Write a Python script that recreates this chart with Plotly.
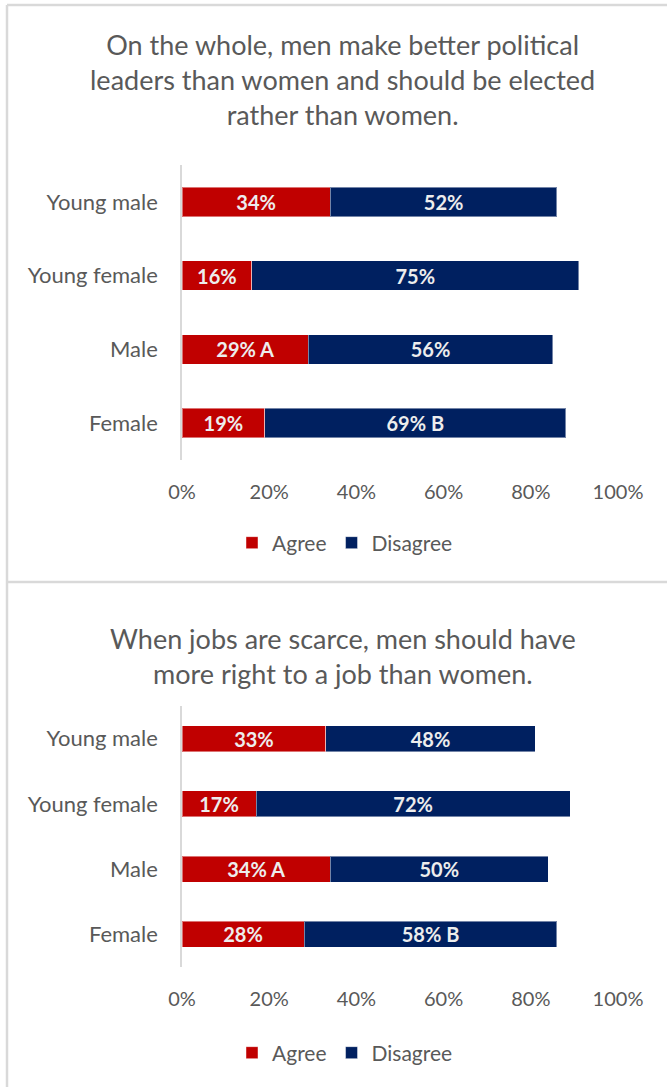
import plotly.graph_objects as go

# Survey groups, listed top to bottom
categories = ["Young male", "Young female", "Male", "Female"]

# Statement 1: men make better political leaders
leaders_agree = [34, 16, 29, 19]
leaders_disagree = [52, 75, 56, 69]
leaders_agree_flag = ["", "", "A", ""]
leaders_disagree_flag = ["", "", "", "B"]

# Statement 2: men should have more right to a job
jobs_agree = [33, 17, 34, 28]
jobs_disagree = [48, 72, 50, 58]
jobs_agree_flag = ["", "", "A", ""]
jobs_disagree_flag = ["", "", "", "B"]

tick_values = [0, 20, 40, 60, 80, 100]
tick_labels = ["0%", "20%", "40%", "60%", "80%", "100%"]

titles = [
    "On the whole, men make better political<br>leaders than women and should be elected<br>rather than women.",
    "When jobs are scarce, men should have<br>more right to a job than women.",
]

RED = "#C00000"
NAVY = "#002060"
GREY_TEXT = "#595959"
FRAME = "#D9D9D9"
FONT = "Lato, 'Open Sans', sans-serif"

W, H = 667, 1087


def px_x(p):
    return p / W


def px_y(p):
    return 1 - p / H


def labels(values, flags):
    return [f"{v}% {f}".strip() for v, f in zip(values, flags)]


fig = go.Figure()

panels = [
    ("x", "y", "legend", leaders_agree, leaders_disagree,
     leaders_agree_flag, leaders_disagree_flag),
    ("x2", "y2", "legend2", jobs_agree, jobs_disagree,
     jobs_agree_flag, jobs_disagree_flag),
]

for xa, ya, lg, agree, disagree, aflag, dflag in panels:
    for name, vals, flags, color in [
        ("Agree", agree, aflag, RED),
        ("Disagree", disagree, dflag, NAVY),
    ]:
        fig.add_trace(go.Bar(
            y=categories, x=vals, orientation="h", name=name,
            marker=dict(color=color, line=dict(color="rgba(255,255,255,0.45)", width=1)),
            text=labels(vals, flags), textposition="inside",
            insidetextanchor="middle", textangle=0,
            textfont=dict(family=FONT, size=20, color="#EDEDED", weight="bold"),
            xaxis=xa, yaxis=ya, legend=lg, hoverinfo="skip",
        ))

axis_x = dict(range=[0, 100], tickvals=tick_values, ticktext=tick_labels,
              showgrid=False, zeroline=False, showline=False, automargin=False,
              ticks="", ticklabelstandoff=18,
              tickfont=dict(family=FONT, size=20, color=GREY_TEXT),
              fixedrange=True)
axis_y = dict(autorange="reversed", showgrid=False, zeroline=False, automargin=False,
              showline=True, linecolor=FRAME, linewidth=1.5,
              ticks="", ticklabelstandoff=18,
              tickfont=dict(family=FONT, size=22, color=GREY_TEXT),
              fixedrange=True)

legend_style = dict(orientation="h", xanchor="center", yanchor="middle",
                    x=px_x(345), font=dict(family=FONT, size=21, color=GREY_TEXT),
                    itemwidth=30, traceorder="normal", bgcolor="rgba(0,0,0,0)")

fig.update_layout(
    width=W, height=H, autosize=False,
    margin=dict(l=0, r=0, t=0, b=0, pad=0, autoexpand=False),
    paper_bgcolor="white", plot_bgcolor="white",
    barmode="stack", bargap=0.6,
    uniformtext=dict(minsize=20, mode="show"),
    xaxis=dict(axis_x, domain=[px_x(182), px_x(618)], anchor="y"),
    yaxis=dict(axis_y, domain=[px_y(460), px_y(165)], anchor="x"),
    xaxis2=dict(axis_x, domain=[px_x(182), px_x(618)], anchor="y2"),
    yaxis2=dict(axis_y, domain=[px_y(967), px_y(706)], anchor="x2"),
    legend=dict(legend_style, y=px_y(543)),
    legend2=dict(legend_style, y=px_y(1053)),
    showlegend=True,
    font=dict(family=FONT, color=GREY_TEXT),
)

# Panel titles
for text, cy in zip(titles, [80, 656]):
    fig.add_annotation(text=text, x=px_x(343), y=px_y(cy), xref="paper", yref="paper",
                       xanchor="center", yanchor="middle", showarrow=False,
                       font=dict(family=FONT, size=27, color=GREY_TEXT), align="center")

# Panel frame lines
frame = [
    (px_x(7), px_y(5), 1.0, px_y(5)),
    (px_x(7), px_y(5), px_x(7), 0.0),
    (px_x(7), px_y(582), 1.0, px_y(582)),
]
for x0, y0, x1, y1 in frame:
    fig.add_shape(type="line", xref="paper", yref="paper", x0=x0, y0=y0, x1=x1, y1=y1,
                  line=dict(color=FRAME, width=2.5))

page_css = (
    "document.documentElement.style.margin='0';"
    "document.documentElement.style.overflow='hidden';"
    "document.body.style.margin='0';"
    "document.body.style.overflow='hidden';"
)
fig.write_html("out.html", post_script=page_css, config={"responsive": False})
